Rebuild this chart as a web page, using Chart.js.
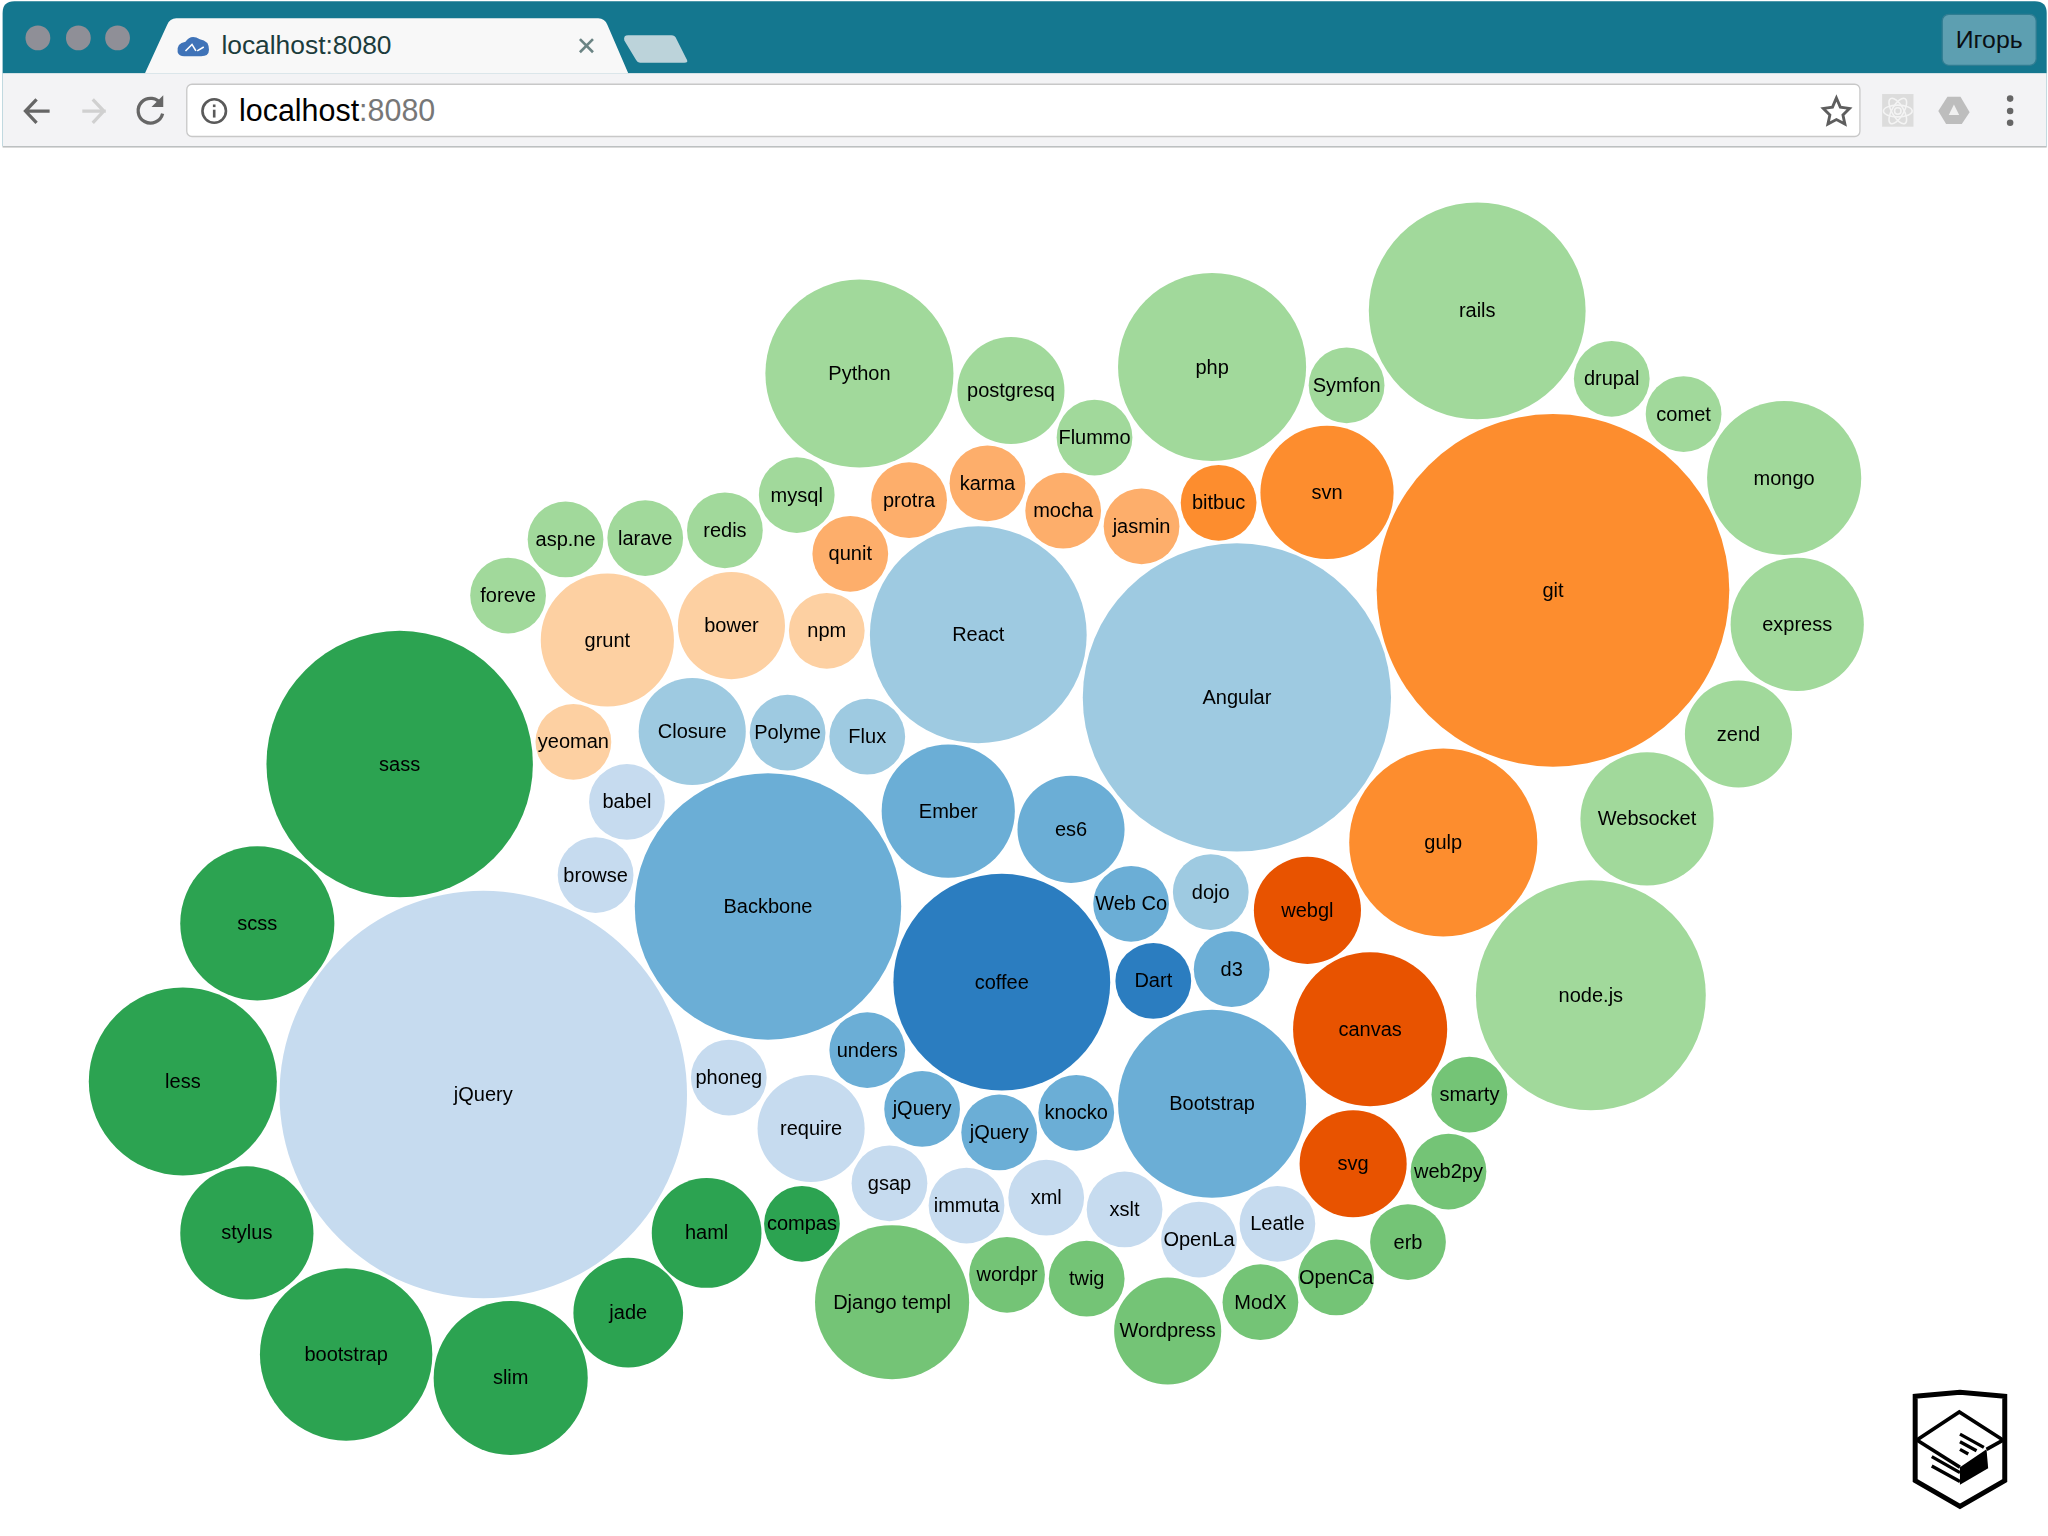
<!DOCTYPE html>
<html><head><meta charset="utf-8">
<script src="https://cdn.jsdelivr.net/npm/chart.js@4/dist/chart.umd.js"></script>
<style>
html,body{margin:0;padding:0;background:#fff;width:2048px;height:1536px;overflow:hidden}
#frame,#c{position:absolute;left:0;top:0}
svg text{font-family:"Liberation Sans",Arial,sans-serif}
</style></head>
<body>
<svg id="frame" width="2048" height="1536" viewBox="0 0 1568 1176">
  <path d="M2 112V10Q2 1 11 1H1558Q1567 1 1567 10V112Z" fill="#14778f"/>
  <rect x="2" y="56" width="1565" height="56" fill="#f3f3f5"/>
  <line x1="2" y1="112.5" x2="1567" y2="112.5" stroke="#b5b5b5" stroke-width="1"/>
  <circle cx="29" cy="29" r="9.5" fill="#8f8f97"/><circle cx="60" cy="29" r="9.5" fill="#8f8f97"/><circle cx="90" cy="29" r="9.5" fill="#8f8f97"/>
  <path d="M111 56L128 19Q130 14 135 14H458Q463 14 465 19L481 56Z" fill="#f8f8f8"/>
  <path d="M478 31Q477 27 481 27H514Q517 27 518 30L526 46Q527 48 524 48H490Q488 48 487 46Z" fill="#bcd3da"/>
  <path d="M136 40Q135 33 142 32Q146 26 153 30Q160 31 160 38Q160 43 154 43H141Q137 43 136 40Z" fill="#3f73b8"/>
  <path d="M142 39L147 34L150 39M151 39L156 36" stroke="#fff" stroke-width="1.2" fill="none"/>
  <text x="169.500" y="41.500" font-size="20.200" fill="#1c3c3c">localhost:8080</text>
  <path d="M444 30L454 40M454 30L444 40" stroke="#6b8484" stroke-width="2" fill="none"/>
  <rect x="1487" y="11" width="72" height="39" rx="5" fill="#5d9fb1" stroke="#2f7d92"/>
  <text x="1523" y="37" font-size="19" text-anchor="middle" fill="#0a0f14">Игорь</text>
  <path d="M38 85H20M28 76L19.500 85L28 94" stroke="#666" stroke-width="2.500" fill="none"/>
  <path d="M81 85H63M71 76L79.500 85L71 94" stroke="#d0d0d0" stroke-width="2.500" fill="none"/>
  <path d="M123.500 80A9.500 9.500 0 1 0 124.500 87" stroke="#666" stroke-width="2.500" fill="none"/>
  <path d="M125 73V82H116Z" fill="#666"/>
  <rect x="143" y="64.500" width="1281" height="40" rx="4" fill="#fff" stroke="#c8c8c8"/>
  <circle cx="164" cy="85" r="9" fill="none" stroke="#5a5a5a" stroke-width="2"/>
  <rect x="163" y="84" width="2" height="6" fill="#5a5a5a"/><rect x="163" y="80" width="2" height="2" fill="#5a5a5a"/>
  <text x="183" y="93" font-size="23.300"><tspan fill="#000">localhost</tspan><tspan fill="#777">:8080</tspan></text>
  <path d="M1406 75L1409 82L1416 83L1411 88L1412.500 95L1406 91.500L1399.500 95L1401 88L1396 83L1403 82Z" fill="none" stroke="#5e5e5e" stroke-width="2.200"/>
  <rect x="1441" y="72" width="24" height="25" fill="#dcdcdc"/>
  <g fill="none" stroke="#f4f4f4" stroke-width="1.200"><ellipse cx="1453" cy="85" rx="11" ry="4.500"/><ellipse cx="1453" cy="85" rx="11" ry="4.500" transform="rotate(60 1453 85)"/><ellipse cx="1453" cy="85" rx="11" ry="4.500" transform="rotate(120 1453 85)"/><circle cx="1453" cy="85" r="2.500"/></g>
  <path d="M1491 74H1501L1508 86L1502 95H1490L1484 85Z" fill="#bdbdbd"/><path d="M1496 80L1500 88H1492Z" fill="#f0f0f0"/>
  <circle cx="1539" cy="75.500" r="2.500" fill="#666"/><circle cx="1539" cy="85" r="2.500" fill="#666"/><circle cx="1539" cy="94" r="2.500" fill="#666"/>
  <g transform="translate(1424.400,1041.600) scale(.254)" fill="none" stroke="#000">
    <path d="M165 108L300 96L435 108V362L300 440L165 362Z" stroke-width="15"/>
    <path d="M170 240L298 155L430 240L380 268" stroke-width="11"/>
    <path d="M170 240L300 322" stroke-width="11"/>
    <path d="M300 322L380 268L385 325L300 375Z" fill="#000" stroke="none"/>
    <path d="M215 290L300 338M215 318L300 365M300 222L372 262M300 245L350 272M300 268L325 282" stroke-width="10"/>
  </g>
</svg>
<canvas id="c" width="2048" height="1536"></canvas>
<script>
const pageWidth = 1568, pageHeight = 1176;

const darkGreenNames = ["sass","scss","less","stylus","bootstrap","slim","jade","haml","compas"];
const darkGreenX = [306,197,140,189,265,391,481,541,614];
const darkGreenY = [585,707,828,944,1037,1055,1005,944,937];
const darkGreenR = [102,59,72,51,66,59,42,42,29];

const midGreenNames = ["Django templ","wordpr","twig","Wordpress","ModX","OpenCa","erb","web2py","smarty"];
const midGreenX = [683,771,832,894,965,1023,1078,1109,1125];
const midGreenY = [997,976,979,1019,997,978,951,897,838];
const midGreenR = [59,29,29,41,29,29,29,29,29];

const lightGreenNames = ["Python","postgresq","Flummo","php","Symfon","rails","drupal","comet","mongo","express","zend","Websocket","node.js","mysql","redis","larave","asp.ne","foreve"];
const lightGreenX = [658,774,838,928,1031,1131,1234,1289,1366,1376,1331,1261,1218,610,555,494,433,389];
const lightGreenY = [286,299,335,281,295,238,290,317,366,478,562,627,762,379,406,412,413,456];
const lightGreenR = [72,41,29,72,29,83,29,29,59,51,41,51,88,29,29,29,29,29];

const orangeNames = ["git","gulp","svn","bitbuc"];
const orangeX = [1189,1105,1016,933];
const orangeY = [452,645,377,385];
const orangeR = [135,72,51,29];

const softOrangeNames = ["protra","karma","mocha","jasmin","qunit"];
const softOrangeX = [696,756,814,874,651];
const softOrangeY = [383,370,391,403,424];
const softOrangeR = [29,29,29,29,29];

const paleOrangeNames = ["grunt","bower","npm","yeoman"];
const paleOrangeX = [465,560,633,439];
const paleOrangeY = [490,479,483,568];
const paleOrangeR = [51,41,29,29];

const deepOrangeNames = ["webgl","canvas","svg"];
const deepOrangeX = [1001,1049,1036];
const deepOrangeY = [697,788,891];
const deepOrangeR = [41,59,41];

const deepBlueNames = ["coffee","Dart"];
const deepBlueX = [767,883];
const deepBlueY = [752,751];
const deepBlueR = [83,29];

const midBlueNames = ["Backbone","Ember","es6","Web Co","d3","unders","jQuery","jQuery","knocko","Bootstrap"];
const midBlueX = [588,726,820,866,943,664,706,765,824,928];
const midBlueY = [694,621,635,692,742,804,849,867,852,845];
const midBlueR = [102,51,41,29,29,29,29,29,29,72];

const lightBlueNames = ["React","Angular","Closure","Polyme","Flux","dojo"];
const lightBlueX = [749,947,530,603,664,927];
const lightBlueY = [486,534,560,561,564,683];
const lightBlueR = [83,118,41,29,29,29];

const paleBlueNames = ["jQuery","babel","browse","phoneg","require","gsap","immuta","xml","xslt","OpenLa","Leatle"];
const paleBlueX = [370,480,456,558,621,681,740,801,861,918,978];
const paleBlueY = [838,614,670,825,864,906,923,917,926,949,937];
const paleBlueR = [156,29,29,29,41,29,29,29,29,29,29];

// Chart.js insets the plot area by the largest bubble radius; the axis range is
// trimmed by the same amount so axis units stay equal to picture units.
const plotInset = Math.max(...paleBlueR);

function series(color, names, xs, ys, rs) {
  return {
    names, backgroundColor: color, borderWidth: 0, hoverBorderWidth: 0, clip: false,
    data: xs.map((x, i) => ({ x, y: ys[i], r: rs[i] * 2048 / pageWidth }))
  };
}

const labelPlugin = {
  id: 'bubbleLabels',
  afterDatasetsDraw(chart) {
    const ctx = chart.ctx;
    ctx.save();
    ctx.font = '20px "Liberation Sans", Arial, sans-serif';
    ctx.fillStyle = '#000';
    ctx.textAlign = 'center';
    ctx.textBaseline = 'middle';
    chart.data.datasets.forEach((ds, d) => {
      chart.getDatasetMeta(d).data.forEach((el, i) => ctx.fillText(ds.names[i], el.x, el.y + 1));
    });
    ctx.restore();
  }
};

new Chart(document.getElementById('c'), {
  type: 'bubble',
  data: { datasets: [
    series('#2ca351', darkGreenNames, darkGreenX, darkGreenY, darkGreenR),
    series('#74c476', midGreenNames, midGreenX, midGreenY, midGreenR),
    series('#a1d99b', lightGreenNames, lightGreenX, lightGreenY, lightGreenR),
    series('#fd8d2e', orangeNames, orangeX, orangeY, orangeR),
    series('#fdae6b', softOrangeNames, softOrangeX, softOrangeY, softOrangeR),
    series('#fdd0a2', paleOrangeNames, paleOrangeX, paleOrangeY, paleOrangeR),
    series('#e85300', deepOrangeNames, deepOrangeX, deepOrangeY, deepOrangeR),
    series('#2b7dc0', deepBlueNames, deepBlueX, deepBlueY, deepBlueR),
    series('#6baed6', midBlueNames, midBlueX, midBlueY, midBlueR),
    series('#9ecae1', lightBlueNames, lightBlueX, lightBlueY, lightBlueR),
    series('#c6dbef', paleBlueNames, paleBlueX, paleBlueY, paleBlueR)
  ]},
  options: {
    responsive: false, animation: false, devicePixelRatio: 1,
    layout: { padding: 0 },
    events: [],
    plugins: { legend: { display: false }, tooltip: { enabled: false }, title: { display: false } },
    scales: {
      x: { type: 'linear', display: false, min: plotInset * 1, max: pageWidth - plotInset },
      y: { type: 'linear', display: false, min: plotInset * 1, max: pageHeight - plotInset, reverse: true }
    }
  },
  plugins: [labelPlugin]
});
</script>
</body></html>
